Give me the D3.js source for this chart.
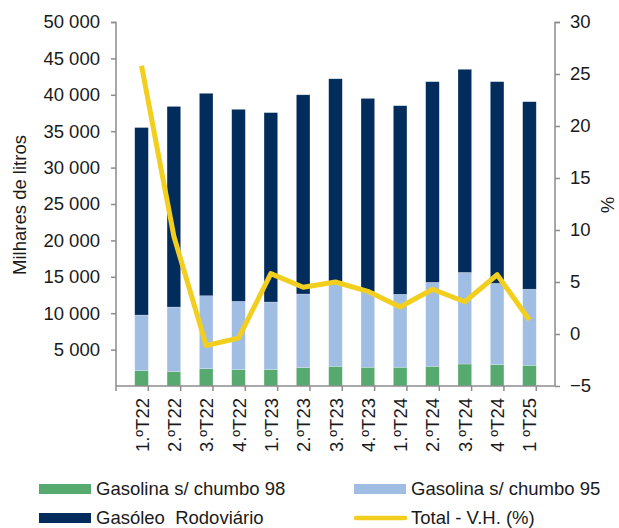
<!DOCTYPE html>
<html>
<head>
<meta charset="utf-8">
<script src="https://cdn.jsdelivr.net/npm/d3@7"></script>
<style>
  body { margin: 0; background: #fff; }
  svg { font-family: "Liberation Sans", Arial, sans-serif; }
</style>
</head>
<body>
<div id="chart"></div>
<script>
// quarters
var quarters = ["1.ºT22", "2.ºT22", "3.ºT22", "4.ºT22", "1.ºT23", "2.ºT23", "3.ºT23",
    "4.ºT23", "1.ºT24", "2.ºT24", "3.ºT24", "4 ºT24", "1 ºT25"]

// thousands of litres, per product
var gasolina98 = [2100, 1970, 2380, 2240, 2240, 2520, 2700, 2570, 2570, 2700, 3020, 2930, 2840]
var gasolina95 = [7650, 8880, 10020, 9390, 9300, 10120, 11300, 10380, 10030, 11540, 12580, 11170, 10460]
var gasoleo = [25750, 27550, 27800, 26370, 26010, 27360, 28200, 26550, 25900, 27560, 27900, 27700, 25750]

// total, year-on-year change (%)
var totalVH = [25.8, 9.4, -1.1, -0.4, 5.8, 4.5, 5.0, 4.1, 2.6, 4.3, 3.1, 5.7, 1.35]

var yTicksLeft = [5000, 10000, 15000, 20000, 25000, 30000, 35000, 40000, 45000, 50000]
var yTicksRight = [-5, 0, 5, 10, 15, 20, 25, 30]

var seriesNames = ["Gasolina s/ chumbo 98", "Gasolina s/ chumbo 95", "Gasóleo  Rodoviário", "Total - V.H. (%)"]
var colors = ["#56a96f", "#a0bee3", "#022c5c", "#f2cf1f"]

var dimensions = {
    width: 439,
    height: 364,
    margin: { top: 22, left: 116 }
}

var svg = d3.select("#chart")
    .append("svg")
    .attr("width", 619)
    .attr("height", 528)

var g = svg.append("g")
    .attr("transform", "translate(" + dimensions.margin.left + "," + dimensions.margin.top + ")")

var rows = quarters.map(function (q, i) {
    return { q: q, g98: gasolina98[i], g95: gasolina95[i], gas: gasoleo[i] }
})
var keys = ["g98", "g95", "gas"]
var stacked = d3.stack().keys(keys)(rows)

var x = d3.scaleBand()
    .domain(quarters)
    .range([0, dimensions.width])
    .padding(0.58)

var y = d3.scaleLinear().domain([0, 50000]).range([dimensions.height, 0])
var y2 = d3.scaleLinear().domain([-5, 30]).range([dimensions.height, 0])

var locale = d3.formatLocale({ decimal: ",", thousands: " ", grouping: [3], currency: ["", ""] })
var fmt = locale.format(",.0f")

// bars
g.append("g")
    .selectAll("g")
    .data(stacked)
    .enter().append("g")
    .attr("fill", function (d, i) { return colors[i] })
    .selectAll("rect")
    .data(function (d) { return d })
    .enter().append("rect")
    .attr("x", function (d) { return x(d.data.q) })
    .attr("y", function (d) { return y(d[1]) })
    .attr("width", x.bandwidth())
    .attr("height", function (d) { return y(d[0]) - y(d[1]) })
    .attr("stroke", "#ffffff")
    .attr("stroke-opacity", 0.35)
    .attr("stroke-width", 0.6)

// axes
var axisColor = "#8c8c8c"

var xAxis = g.append("g")
    .attr("transform", "translate(0," + dimensions.height + ")")
xAxis.append("line")
    .attr("x1", 0).attr("x2", dimensions.width)
    .attr("stroke", axisColor).attr("stroke-width", 1.5)
xAxis.selectAll(".tk")
    .data(d3.range(quarters.length + 1))
    .enter().append("line")
    .attr("x1", function (i) { return i * x.step() })
    .attr("x2", function (i) { return i * x.step() })
    .attr("y1", 0).attr("y2", 5)
    .attr("stroke", axisColor).attr("stroke-width", 1.5)
xAxis.selectAll("text")
    .data(quarters)
    .enter().append("text")
    .attr("transform", function (d) {
        return "translate(" + (x(d) + x.bandwidth() / 2 + 7) + ",12) rotate(-90)"
    })
    .attr("text-anchor", "end")
    .attr("font-size", "18.5px")
    .attr("fill", "#1a1a1a")
    .text(function (d) { return d })

var leftAxis = g.append("g")
    .call(d3.axisLeft(y).tickValues(yTicksLeft).tickFormat(fmt).tickSize(5).tickPadding(11))
var rightAxis = g.append("g")
    .attr("transform", "translate(" + dimensions.width + ",0)")
    .call(d3.axisRight(y2).tickValues(yTicksRight).tickSize(5).tickPadding(10))

;[leftAxis, rightAxis].forEach(function (a) {
    a.selectAll("path, line").attr("stroke", axisColor).attr("stroke-width", 1.5)
    a.select(".domain").attr("d", a === leftAxis ? "M-5,0.5H0V" + dimensions.height : "M5,0.5H0V" + dimensions.height)
    a.selectAll("text").attr("font-size", "18.5px").attr("fill", "#1a1a1a")
        .attr("font-family", "Liberation Sans, Arial, sans-serif")
})

// axis titles
svg.append("text")
    .attr("transform", "translate(26,205) rotate(-90)")
    .attr("text-anchor", "middle")
    .attr("font-size", "18.5px")
    .attr("fill", "#1a1a1a")
    .text("Milhares de litros")
svg.append("text")
    .attr("transform", "translate(601,205) rotate(90)")
    .attr("text-anchor", "middle")
    .attr("font-size", "18.5px")
    .attr("fill", "#1a1a1a")
    .text("%")

// line
var line = d3.line()
    .x(function (d, i) { return x(quarters[i]) + x.bandwidth() / 2 })
    .y(function (d) { return y2(d) })
g.append("path")
    .datum(totalVH)
    .attr("d", line)
    .attr("fill", "none")
    .attr("stroke", colors[3])
    .attr("stroke-width", 5)
    .attr("stroke-linejoin", "round")

// legend
var legendPos = [[39, 484], [354, 484], [39, 513], [354, 513]]
var legend = svg.append("g")
    .selectAll("g")
    .data(seriesNames)
    .enter().append("g")
    .attr("transform", function (d, i) { return "translate(" + legendPos[i][0] + "," + legendPos[i][1] + ")" })
legend.each(function (d, i) {
    var el = d3.select(this)
    if (i < 3) {
        el.append("rect").attr("width", 52).attr("height", 10).attr("fill", colors[i])
    } else {
        el.append("line").attr("x1", 2).attr("x2", 51).attr("y1", 5).attr("y2", 5)
            .attr("stroke", colors[i]).attr("stroke-width", 4.5).attr("stroke-linecap", "round")
    }
    el.append("text")
        .attr("x", 57).attr("y", 11)
        .attr("font-size", "18.5px")
        .attr("fill", "#1a1a1a")
        .style("white-space", "pre")
        .text(d)
})
</script>
</body>
</html>
